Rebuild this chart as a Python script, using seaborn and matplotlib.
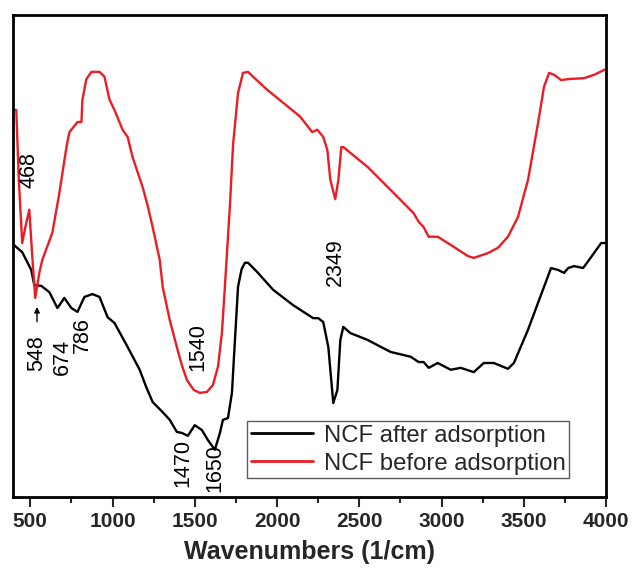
import numpy as np
import pandas as pd
import matplotlib
matplotlib.use("Agg")
import matplotlib.pyplot as plt
import seaborn as sns

# ---- data ----
before_wn = [400, 415, 430, 451, 470, 494, 512, 530, 555, 573, 634, 677, 720, 738, 787, 811,
             817, 841, 872, 921, 951, 982, 1012, 1061, 1092, 1122, 1183, 1214, 1244, 1287,
             1305, 1348, 1391, 1421, 1452, 1494, 1531, 1574, 1610, 1641, 1665, 1683, 1714,
             1733, 1763, 1793, 1824, 1854, 1940, 2037, 2141, 2214, 2245, 2281, 2306, 2324,
             2354, 2373, 2391, 2403, 2550, 2708, 2830, 2861, 2891, 2922, 2977, 3056, 3160,
             3196, 3282, 3343, 3404, 3465, 3526, 3587, 3623, 3654, 3684, 3727, 3770, 3867,
             3928, 3989, 4000]
before_t = [80.3, 80.3, 66.0, 52.7, 56.0, 59.6, 50.0, 41.3, 46.5, 49.2, 54.8, 63.1, 72.6,
            75.7, 77.8, 77.8, 82.4, 86.7, 88.2, 88.2, 87.2, 82.4, 80.3, 76.2, 74.7, 70.5,
            64.3, 60.4, 56.0, 49.2, 43.6, 36.7, 31.1, 27.4, 24.3, 22.2, 21.6, 21.8, 23.2,
            27.0, 34.0, 43.6, 60.6, 73.2, 83.8, 88.0, 88.2, 87.2, 84.5, 81.8, 78.9, 75.7,
            76.2, 74.7, 72.0, 65.8, 61.8, 65.8, 72.6, 72.6, 68.5, 63.1, 58.9, 57.1, 56.0,
            54.0, 54.0, 52.3, 50.0, 49.6, 50.6, 51.7, 54.0, 58.1, 65.8, 77.6, 85.1, 88.0,
            87.6, 86.5, 86.7, 86.9, 87.6, 88.6, 88.8]

after_wn = [400, 451, 506, 524, 567, 616, 665, 707, 750, 787, 829, 878, 921, 970, 1012,
            1086, 1165, 1205, 1244, 1305, 1348, 1391, 1421, 1458, 1500, 1543, 1580, 1622,
            1653, 1671, 1702, 1726, 1745, 1763, 1785, 1805, 1824, 1879, 1976, 2098, 2220,
            2251, 2281, 2312, 2342, 2367, 2385, 2403, 2446, 2550, 2690, 2812, 2861, 2891,
            2922, 2977, 3056, 3117, 3196, 3257, 3318, 3404, 3440, 3526, 3587, 3666, 3709,
            3745, 3770, 3806, 3861, 3910, 3971, 4000]
after_t = [52.3, 50.8, 47.1, 44.0, 43.8, 42.5, 39.2, 41.3, 39.2, 38.4, 41.5, 42.1, 41.5,
           37.3, 36.1, 31.5, 26.4, 22.8, 19.7, 17.6, 16.0, 13.5, 13.3, 12.7, 14.9, 13.9,
           11.8, 9.8, 13.3, 16.0, 16.4, 21.6, 33.0, 43.6, 47.3, 48.6, 48.6, 46.7, 43.0,
           39.8, 37.1, 37.1, 36.3, 31.1, 19.5, 22.2, 32.6, 35.3, 34.0, 32.6, 30.1, 29.1,
           28.0, 28.0, 26.8, 27.8, 26.4, 26.8, 25.9, 27.8, 27.8, 26.6, 27.8, 34.7, 40.3,
           47.5, 47.1, 46.5, 47.5, 47.9, 47.5, 49.8, 52.7, 52.7]

series_names = ["NCF after adsorption", "NCF before adsorption"]
peak_labels = ["468", "548", "674", "786", "1540", "1470", "1650", "2349"]
peak_x = [494, 541, 695, 817, 1519, 1427, 1622, 2354]
peak_y = [67.9, 29.9, 29.0, 33.6, 31.1, 7.1, 6.0, 48.8]
xticks = [500, 1000, 1500, 2000, 2500, 3000, 3500, 4000]

df = pd.concat([
    pd.DataFrame({"wn": after_wn, "T": after_t, "series": series_names[0]}),
    pd.DataFrame({"wn": before_wn, "T": before_t, "series": series_names[1]}),
])

sns.set_style("ticks")
plt.rcParams['font.family'] = ['Liberation Sans', 'DejaVu Sans']

fig = plt.figure(figsize=(6.33, 5.71), dpi=100)
ax = fig.add_axes([13/633, 74/571, 593/633, 482/571])

sns.lineplot(data=df, x="wn", y="T", hue="series", hue_order=series_names,
             palette={series_names[0]: "black", series_names[1]: "#ed1c24"},
             estimator=None, sort=False, linewidth=1.7, ax=ax)

ax.set_xlim(395, 4000)
ax.set_ylim(0, 100)
ax.set_xticks(xticks)
ax.set_xticklabels([str(t) for t in xticks], fontsize=15, fontweight="bold")
ax.set_xticks([750, 1250, 1750, 2250, 2750, 3250, 3750], minor=True)
ax.set_yticks([])
ax.set_ylabel("")
ax.set_xlabel("Wavenumbers (1/cm)", fontsize=18, fontweight="bold", labelpad=6)
ax.tick_params(axis="x", which="major", direction="out", length=7, width=1.5, pad=4)
ax.tick_params(axis="x", which="minor", direction="out", length=4, width=1.5)
for s in ax.spines.values():
    s.set_linewidth(2)
    s.set_color("black")

for lab, px, py in zip(peak_labels, peak_x, peak_y):
    ax.text(px, py, lab, rotation=90, ha="center", va="center", fontsize=15.5, color="black")

ax.annotate("", xy=(541, 40.0), xytext=(541, 35.8),
            arrowprops=dict(arrowstyle="-|>", color="black", lw=1, mutation_scale=8))

leg = ax.legend(loc="lower right", bbox_to_anchor=(0.938, 0.039), borderaxespad=0,
                fontsize=17.2, frameon=True, fancybox=False, handlelength=2.6,
                handletextpad=0.45, labelspacing=0.25, borderpad=0.15)
leg.get_frame().set_edgecolor("#333333")
leg.get_frame().set_linewidth(1)
for l in leg.get_lines():
    l.set_linewidth(2)

fig.savefig("out.png", dpi=100)
